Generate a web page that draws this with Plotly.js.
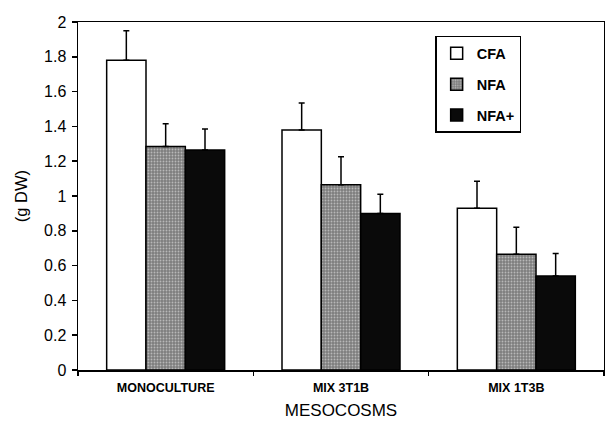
<!DOCTYPE html>
<html>
<head>
<meta charset="utf-8">
<script src="https://cdn.plot.ly/plotly-3.0.1.min.js"></script>
<style>html,body{margin:0;padding:0;background:#fff;}#chart{width:605px;height:426px;}</style>
</head>
<body>
<div id="chart"></div>
<script>
var categories = ["MONOCULTURE", "MIX 3T1B", "MIX 1T3B"];
var seriesNames = ["CFA", "NFA", "NFA+"];
var cfaValues = [1.78, 1.38, 0.93];
var cfaErrors = [0.17, 0.155, 0.155];
var nfaValues = [1.285, 1.065, 0.665];
var nfaErrors = [0.13, 0.16, 0.155];
var nfaPlusValues = [1.265, 0.90, 0.54];
var nfaPlusErrors = [0.12, 0.11, 0.13];

function errBar(arr) {
  return {type: 'data', symmetric: false, array: arr, arrayminus: arr.map(function(){return 0;}),
          color: '#000', thickness: 1.5, width: 3};
}
var lineStyle = {color: '#000', width: 1.5};
var traces = [
  {type: 'bar', name: seriesNames[0], x: categories, y: cfaValues, error_y: errBar(cfaErrors),
   legendgroup: 'a', marker: {color: '#ffffff', line: lineStyle}},
  {type: 'bar', name: seriesNames[1], x: categories, y: nfaValues, error_y: errBar(nfaErrors),
   legendgroup: 'b', marker: {color: '#8a8a8a', line: lineStyle,
     pattern: {shape: '.', bgcolor: '#7e7e7e', fgcolor: '#b8b8b8', size: 3, solidity: 0.3}}},
  {type: 'bar', name: seriesNames[2], x: categories, y: nfaPlusValues, error_y: errBar(nfaPlusErrors),
   legendgroup: 'c', marker: {color: '#0a0a0a', line: lineStyle}}
];
var font = "Arial, 'Liberation Sans', sans-serif";
var layout = {
  width: 605, height: 426,
  margin: {l: 78, r: 1, t: 22, b: 56},
  paper_bgcolor: '#fff', plot_bgcolor: '#fff',
  font: {family: font, color: '#000', size: 14},
  barmode: 'group', bargap: 0.327, bargroupgap: 0,
  showlegend: true,
  legend: {x: 0.679, y: 0.96, xanchor: 'left', yanchor: 'top',
           bordercolor: '#000', borderwidth: 1.5, bgcolor: '#fff',
           traceorder: 'grouped', tracegroupgap: 9, entrywidth: 82,
           font: {family: font, size: 14.5, color: '#000', weight: 'bold'}},
  xaxis: {type: 'category', showline: true, linecolor: '#000', linewidth: 1.5, mirror: true,
          ticks: 'outside', tickson: 'boundaries', ticklen: 4, tickcolor: '#000', tickwidth: 1.5,
          showgrid: false, zeroline: false, ticklabelstandoff: 5,
          tickfont: {family: font, size: 12.5, weight: 'bold'},
          title: {text: 'MESOCOSMS', font: {family: font, size: 17}, standoff: 10}},
  yaxis: {range: [0, 2], dtick: 0.2, showline: true, linecolor: '#000', linewidth: 1.5, mirror: true,
          ticks: 'outside', ticklen: 5, tickcolor: '#000', tickwidth: 1.5,
          showgrid: false, zeroline: false, ticklabelstandoff: 2,
          tickfont: {family: font, size: 16},
          title: {text: '(g DW)', font: {family: font, size: 16.5}, standoff: 12}}
};
Plotly.newPlot('chart', traces, layout, {displayModeBar: false, staticPlot: true});
</script>
</body>
</html>
